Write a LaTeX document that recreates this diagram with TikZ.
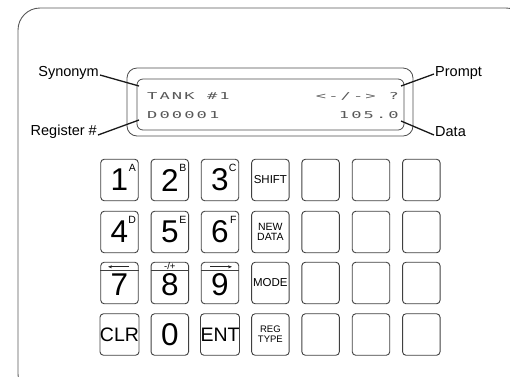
\documentclass[tikz,border=0pt]{standalone}
\usepackage{fontspec}
\setmainfont{Liberation Sans}
\newfontfamily\lcdfont[FakeStretch=1.8,LetterSpace=22]{DejaVu Sans Mono}
\usetikzlibrary{positioning,arrows.meta}

\begin{document}
\begin{tikzpicture}[x=1pt,y=-1pt,
  frame/.style={draw=black!65,line width=0.9pt,rounded corners=22pt},
  lcdbox/.style={draw=black!70,line width=0.8pt,rounded corners=#1},
  lcd/.style={font=\lcdfont\fontsize{9.5}{10}\selectfont,text=black!65,inner sep=0pt},
  tag/.style={font=\fontsize{14.5}{16}\selectfont,inner sep=1pt},
  leader/.style={draw=black!90,line width=1.3pt},
  key/.style={draw=black!75,line width=0.9pt,rounded corners=3.5pt,minimum width=37.5pt,minimum height=41.5pt,inner sep=0pt},
  digit/.style={key,font=\fontsize{31.5}{31.5}\selectfont},
  bigword/.style={key,font=\fontsize{19.5}{19.5}\selectfont},
  smallword/.style={key,font=\fontsize{11.5}{11.5}\selectfont},
  twoword/.style={key,font=\fontsize{10.5}{10.5}\selectfont,align=center},
  sup/.style={font=\fontsize{10.5}{10.5}\selectfont,inner sep=0pt},
  legend/.style={font=\fontsize{9.5}{9.5}\selectfont,inner sep=0pt},
  legarrow/.style={draw=black!85,line width=0.8pt,-{Stealth[length=4pt,width=3pt]}}]
\useasboundingbox (0,0) rectangle (510,376);
\clip (0,0) rectangle (510,376);
\draw[frame] (18,8) rectangle (528,396);

\draw[lcdbox=10pt] (127,68) rectangle (413,136);
\draw[lcdbox=6pt] (137,79) rectangle (404,130);
\node[lcd,anchor=base west] (syn) at (147,99) {TANK \#1};
\node[lcd,anchor=base west] (reg) at (147,118.5) {D00001};
\node[lcd,anchor=base east] (prm) at (376,99) {<-/->};
\node[lcd,anchor=base east] (que) at (399,99) {?};
\node[lcd,anchor=base east] (dat) at (399,118.5) {105.0};

\node[tag,anchor=east] (tsyn) at (100,73) {Synonym};
\node[tag,anchor=east] (treg) at (98,132) {Register \#};
\node[tag,anchor=west] (tprm) at (434,73) {Prompt};
\node[tag,anchor=west] (tdat) at (434,132) {Data};
\coordinate (psyn) at (139,86);
\coordinate (preg) at (139,120);
\coordinate (pprm) at (401,86);
\coordinate (pdat) at (401,121);
\draw[leader] ([yshift=-2pt]tsyn.east) -- (psyn);
\draw[leader] ([yshift=-3pt]treg.east) -- (preg);
\draw[leader] ([yshift=-1pt]tprm.west) -- (pprm);
\draw[leader] ([yshift=-3pt]tdat.west) -- (pdat);

\node[digit] (k1) at (119.5,180) {1};
\node[digit] (k2) at (169.8,180) {2};
\node[digit] (k3) at (220,180) {3};
\node[smallword] (kshift) at (270.4,180) {SHIFT};
\node[digit] (k4) at (119.5,232) {4};
\node[digit] (k5) at (169.8,232) {5};
\node[digit] (k6) at (220,232) {6};
\node[twoword] (knew) at (270.4,232) {NEW\\DATA};
\node[digit,text height=20pt] (k7) at (119.5,283) {\raisebox{-5pt}{7}};
\node[digit,text height=20pt] (k8) at (169.8,283) {\raisebox{-5pt}{8}};
\node[digit,text height=20pt] (k9) at (220,283) {\raisebox{-5pt}{9}};
\node[smallword] (kmode) at (270.4,283) {MODE};
\node[bigword] (kclr) at (119.5,334.5) {CLR};
\node[digit] (k0) at (169.8,334.5) {0};
\node[bigword] (kent) at (220,334.5) {ENT};
\node[twoword,font=\fontsize{9.5}{10}\selectfont] (kreg) at (270.4,334.5) {REG\\TYPE};
\foreach \r/\y in {1/180,2/232,3/283,4/334.5}
  \foreach \c/\x in {1/320.6,2/371,3/421.3}
    \node[key] (b\r\c) at (\x,\y) {};

\node[sup,anchor=north east] at ([xshift=-2.5pt,yshift=-5.5pt]k1.north east) {A};
\node[sup,anchor=north east] at ([xshift=-2.5pt,yshift=-5.5pt]k2.north east) {B};
\node[sup,anchor=north east] at ([xshift=-2.5pt,yshift=-5.5pt]k3.north east) {C};
\node[sup,anchor=north east] at ([xshift=-2.5pt,yshift=-5.5pt]k4.north east) {D};
\node[sup,anchor=north east] at ([xshift=-2.5pt,yshift=-5.5pt]k5.north east) {E};
\node[sup,anchor=north east] at ([xshift=-2.5pt,yshift=-5.5pt]k6.north east) {F};

\draw[draw=black!75,line width=0.9pt] ([yshift=-9pt]k7.north west) -- ([yshift=-9pt]k7.north east);
\draw[draw=black!75,line width=0.9pt] ([yshift=-9pt]k8.north west) -- ([yshift=-9pt]k8.north east);
\draw[draw=black!75,line width=0.9pt] ([yshift=-9pt]k9.north west) -- ([yshift=-9pt]k9.north east);
\draw[legarrow] ([xshift=9.5pt,yshift=-5pt]k7.north) -- ([xshift=-11.5pt,yshift=-5pt]k7.north);
\node[legend] at ([yshift=-4.5pt]k8.north) {-/+};
\draw[legarrow] ([xshift=-10pt,yshift=-5pt]k9.north) -- ([xshift=12pt,yshift=-5pt]k9.north);
\end{tikzpicture}
\end{document}
